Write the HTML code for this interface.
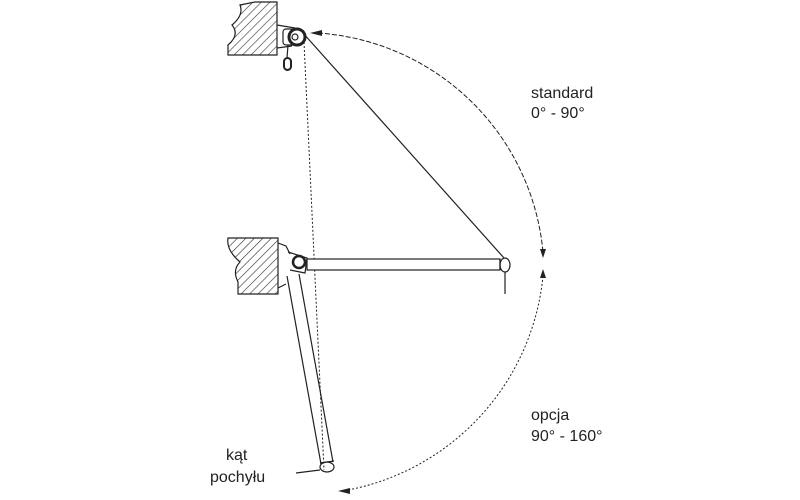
<!DOCTYPE html>
<html><head><style>
html,body{margin:0;padding:0;background:#fff;width:800px;height:500px;overflow:hidden}
text{font-family:"Liberation Sans",sans-serif;fill:#222;font-size:16px}
</style></head><body>
<svg width="800" height="500" viewBox="0 0 800 500">
<defs>
<pattern id="h" width="6" height="6" patternUnits="userSpaceOnUse" patternTransform="rotate(45)">
<line x1="0" y1="0" x2="0" y2="6" stroke="#333" stroke-width="1.2"/>
</pattern>
</defs>
<g stroke="#222" fill="none" stroke-width="1.2">
<!-- top wall -->
<path d="M277,2 L277,55 L228,55 L228,45 Q240,35 232,25 Q244,15 240,5 L255,2 Z" fill="url(#h)"/>
<path d="M277,25 L295,28 M277,48 L292,46"/>
<rect x="283" y="29" width="16" height="16" rx="3" fill="#fff"/>
<circle cx="297" cy="37" r="8" stroke-width="3" fill="#fff"/>
<circle cx="295" cy="37" r="3"/>
<path d="M288,45 L287,58"/>
<rect x="284" y="58" width="7" height="12" rx="3.5" stroke-width="2"/>
<!-- lines from top -->
<path d="M303,33 L504,258"/>
<path d="M304,42 L324,470" stroke-dasharray="2,2" stroke-width="1"/>
<!-- lower wall -->
<path d="M278,238 L278,294 L238,294 L238,282 Q232,270 240,262 Q226,250 228,238 Z" fill="url(#h)"/>
<path d="M278,243 L286,246 L290,254 M278,288 L286,284"/>
<circle cx="299" cy="262" r="6" stroke-width="2.5" fill="#fff"/>
<path d="M288,252 L307,258 L305,273 L290,270"/>
<!-- bar -->
<rect x="307" y="259" width="193" height="11" fill="#fff"/>
<path d="M500,259 L500,270"/>
<ellipse cx="505" cy="265" rx="5" ry="7"/>
<path d="M505,272 L505,294"/>
<!-- slanted arm -->
<path d="M287,276 L321,464 M299,274 L333,462"/>
<ellipse cx="327" cy="467" rx="7" ry="5"/>
<path d="M320,463 L334,461 M296,473 L320,470"/>
<!-- arcs -->
<path d="M318,33 A242,242 0 0 1 543,252" stroke-width="1" stroke-dasharray="5,2"/>
<path d="M543,276 A242,242 0 0 1 348,490" stroke-width="1" stroke-dasharray="2,2"/>
</g>
<g fill="#222">
<path d="M310,33 L322,30 L322,36 Z"/>
<path d="M543,258 L540,249 L546,249 Z"/>
<path d="M543,269 L540,278 L546,278 Z"/>
<path d="M338,491 L350,488 L350,494 Z"/>
</g>
<text x="531" y="98">standard</text>
<text x="531" y="118">0° - 90°</text>
<text x="531" y="420">opcja</text>
<text x="531" y="441">90° - 160°</text>
<text x="226" y="460">kąt</text>
<text x="210" y="482">pochyłu</text>
</svg>
</body></html>
